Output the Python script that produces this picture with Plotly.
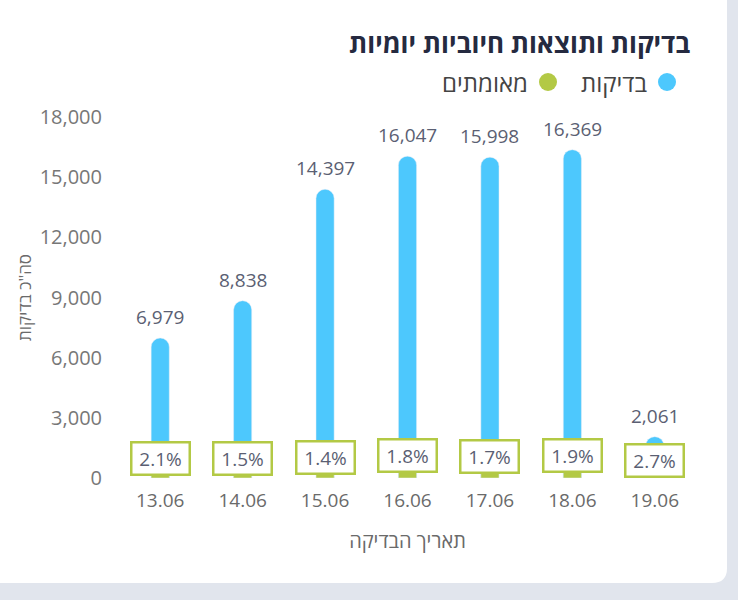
import plotly.graph_objects as go

dates = ["13.06", "14.06", "15.06", "16.06", "17.06", "18.06", "19.06"]
tests = [6979, 8838, 14397, 16047, 15998, 16369, 2061]
positive = [147, 133, 202, 289, 272, 311, 56]
pct_labels = ["2.1%", "1.5%", "1.4%", "1.8%", "1.7%", "1.9%", "2.7%"]
y_ticks = [0, 3000, 6000, 9000, 12000, 15000, 18000]

title_text = "בדיקות ותוצאות חיוביות יומיות"
legend_tests = "בדיקות"
legend_pos = "מאומתים"
y_title = "סה\"כ בדיקות"
x_title = "תאריך הבדיקה"

CYAN = "#4dc8fd"
GREEN = "#b3c945"
LABEL = "#5b5f73"
TICK = "#6a6a6a"
FONT = "Open Sans"

W, H = 738, 600
L, R, T, B = 119, 42, 117, 122
pw, ph = W - L - R, H - T - B


def px_x(px):
    return (px - L) / pw


def px_y(py):
    return (H - B - py) / ph


fig = go.Figure()
fig.add_trace(go.Bar(x=dates, y=tests, marker_color=CYAN, width=0.22,
                     showlegend=False, hoverinfo="skip"))
fig.add_trace(go.Bar(x=dates, y=positive, marker_color=GREEN, width=0.22,
                     showlegend=False, hoverinfo="skip"))

annotations = []
for i, v in enumerate(tests):
    annotations.append(dict(x=i, y=v, xref="x", yref="y", text=f"{v:,}",
                            showarrow=False, yanchor="bottom", yshift=6,
                            font=dict(family=FONT, size=19, color=LABEL)))
for i, (p, lab) in enumerate(zip(positive, pct_labels)):
    annotations.append(dict(x=i, y=p, xref="x", yref="y", text=lab,
                            showarrow=False, yanchor="bottom", yshift=-1,
                            bgcolor="white", bordercolor=GREEN, borderwidth=2.5,
                            borderpad=2, width=52, height=26,
                            font=dict(family=FONT, size=19, color=LABEL)))

# title
annotations.append(dict(x=px_x(692), y=px_y(43), xref="paper", yref="paper",
                        text=f"<b>{title_text}</b>", showarrow=False,
                        xanchor="right", yanchor="middle",
                        font=dict(family=FONT, size=26, color="#252a40")))
# legend texts
annotations.append(dict(x=px_x(649), y=px_y(82), xref="paper", yref="paper",
                        text=legend_tests, showarrow=False,
                        xanchor="right", yanchor="middle",
                        font=dict(family=FONT, size=24, color="#444")))
annotations.append(dict(x=px_x(530), y=px_y(82), xref="paper", yref="paper",
                        text=legend_pos, showarrow=False,
                        xanchor="right", yanchor="middle",
                        font=dict(family=FONT, size=24, color="#444")))

shapes = []
# card background with rounded bottom-right corner
x0, x1 = px_x(-20), px_x(727)
yt, yb = px_y(-20), px_y(583)
rx, ry = 15 / pw, 15 / ph
path = (f"M {x0},{yt} L {x1},{yt} L {x1},{yb + ry} "
        f"Q {x1},{yb} {x1 - rx},{yb} L {x0},{yb} Z")
shapes.append(dict(type="path", xref="paper", yref="paper", path=path,
                   fillcolor="white", line=dict(width=0), layer="below"))
# legend dots
for cx, col in [(667, CYAN), (548, GREEN)]:
    shapes.append(dict(type="circle", xref="paper", yref="paper",
                       xsizemode="pixel", ysizemode="pixel",
                       xanchor=px_x(cx), yanchor=px_y(82),
                       x0=-9, x1=9, y0=-9, y1=9,
                       fillcolor=col, line=dict(width=0)))

fig.update_layout(
    width=W, height=H,
    margin=dict(l=L, r=R, t=T, b=B),
    paper_bgcolor="#e1e5ed",
    plot_bgcolor="rgba(0,0,0,0)",
    barmode="overlay",
    barcornerradius=9,
    font=dict(family=FONT),
    annotations=annotations,
    shapes=shapes,
    xaxis=dict(type="category", range=[-0.5, len(dates) - 0.5],
               showgrid=False, showline=False, zeroline=False,
               ticks="", ticklabelstandoff=9, tickangle=0,
               tickfont=dict(family=FONT, size=19, color=TICK),
               title=dict(text=x_title, standoff=21,
                          font=dict(family=FONT, size=20, color=TICK))),
    yaxis=dict(range=[0, 18000], tickvals=y_ticks, tickformat=",d",
               showgrid=False, showline=False, zeroline=False, ticks="",
               ticklabelstandoff=16,
               tickfont=dict(family=FONT, size=20, color="#777777"),
               title=dict(text=y_title, standoff=3,
                          font=dict(family=FONT, size=17, color=TICK))),
)

fig.write_html("out.html")
